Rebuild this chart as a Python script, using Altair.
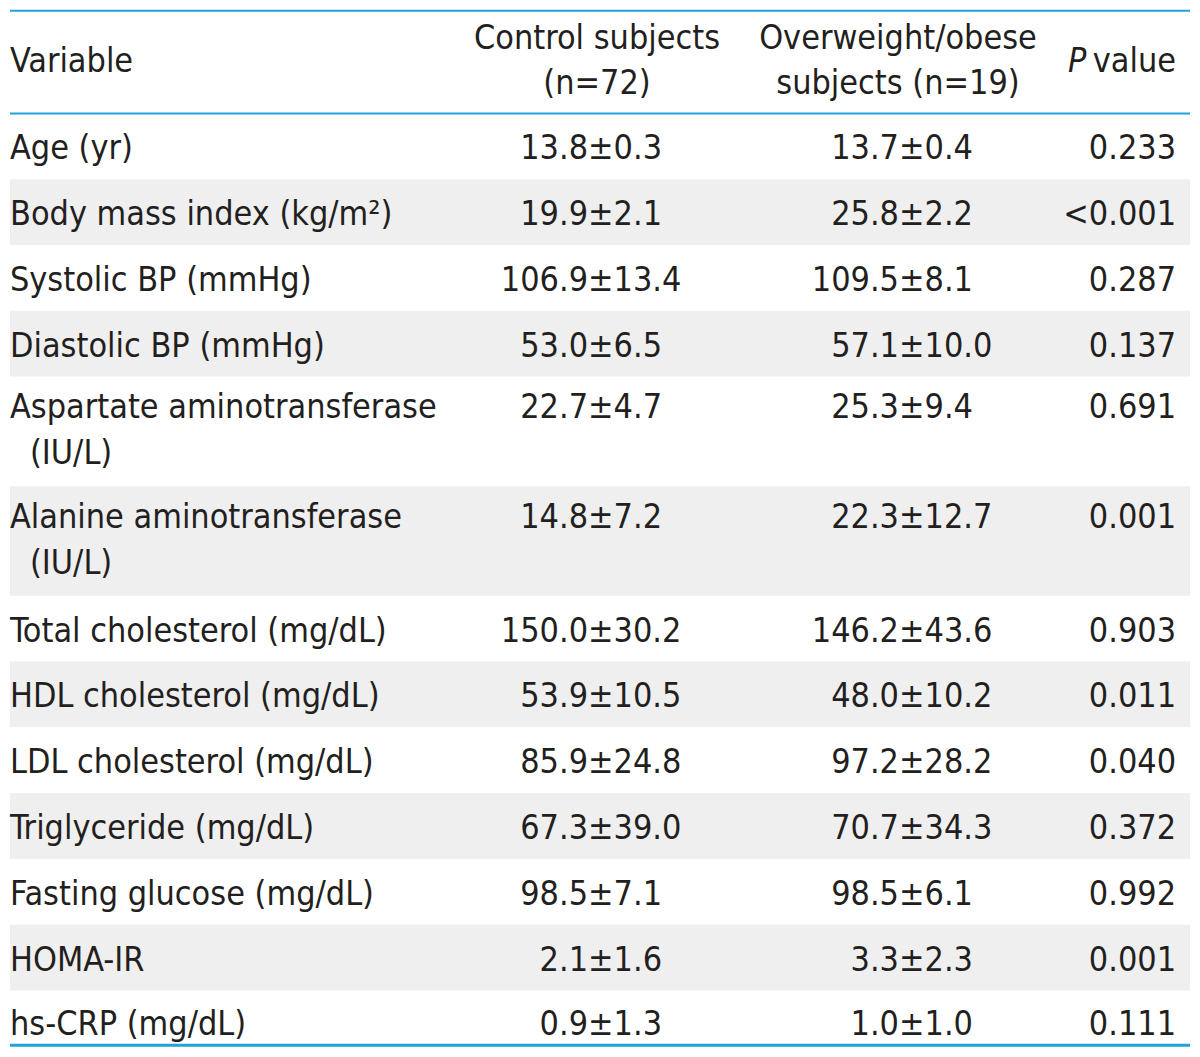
import altair as alt
import pandas as pd

# ---------------- data ----------------
variables = [
    "Age (yr)", "Body mass index (kg/m²)", "Systolic BP (mmHg)", "Diastolic BP (mmHg)",
    "Aspartate aminotransferase", "Alanine aminotransferase", "Total cholesterol (mg/dL)",
    "HDL cholesterol (mg/dL)", "LDL cholesterol (mg/dL)", "Triglyceride (mg/dL)",
    "Fasting glucose (mg/dL)", "HOMA-IR", "hs-CRP (mg/dL)",
]
variables_line2 = ["", "", "", "", "(IU/L)", "(IU/L)", "", "", "", "", "", "", ""]
control = ["13.8±0.3", "19.9±2.1", "106.9±13.4", "53.0±6.5", "22.7±4.7", "14.8±7.2",
           "150.0±30.2", "53.9±10.5", "85.9±24.8", "67.3±39.0", "98.5±7.1", "2.1±1.6", "0.9±1.3"]
overweight = ["13.7±0.4", "25.8±2.2", "109.5±8.1", "57.1±10.0", "25.3±9.4", "22.3±12.7",
              "146.2±43.6", "48.0±10.2", "97.2±28.2", "70.7±34.3", "98.5±6.1", "3.3±2.3", "1.0±1.0"]
p_values = ["0.233", "<0.001", "0.287", "0.137", "0.691", "0.001", "0.903", "0.011",
            "0.040", "0.372", "0.992", "0.001", "0.111"]
header_variable = "Variable"
header_control = ["Control subjects", "(n=72)"]
header_overweight = ["Overweight/obese", "subjects (n=19)"]
header_p = ["P", "value"]

# ---------------- layout ----------------
FONT = "DejaVu Sans Condensed"
FS = 34
TXT = "#231f20"
BLUE = "#1fa3db"
GRAY = "#efefef"
HEADER_BOTTOM = 112
ROW_H, ROW_H2 = 66, 110
X_VAR, X_VAR2 = 8, 28
X_CTRL_PM, X_OW_PM = 588, 900
X_CTRL_HEAD, X_OW_HEAD = 597, 899
X_P = 1178

# chart area on the page: x 8..1192, y 8..1049
X0, X1, Y0, Y1 = 8, 1192, 8, 1049
W, H = X1 - X0, Y1 - Y0
TABLE_END = Y1 - 2

cells = []
rects = []
top = HEADER_BOTTOM
n = len(variables)
for i, var in enumerate(variables):
    two = variables_line2[i] != ""
    h = ROW_H2 if two else ROW_H
    bottom = min(top + h, TABLE_END)
    b1 = top + (42 if two else 46)
    if i == n - 1:
        b1 = min(b1, bottom - 10)
    if i % 2 == 1:
        rects.append({"top": top, "bottom": bottom})
    cells.append({"text": var, "x": X_VAR, "y": b1, "align": "left", "style": "normal"})
    if two:
        cells.append({"text": variables_line2[i], "x": X_VAR2, "y": top + 88, "align": "left", "style": "normal"})
    for val, xpm in ((control[i], X_CTRL_PM), (overweight[i], X_OW_PM)):
        left, right = val.split("±")
        cells.append({"text": left, "x": xpm, "y": b1, "align": "right", "style": "normal"})
        cells.append({"text": "±" + right, "x": xpm, "y": b1, "align": "left", "style": "normal"})
    cells.append({"text": p_values[i], "x": X_P, "y": b1, "align": "right", "style": "normal"})
    top = bottom
table_bottom = top

# header cells
cells.append({"text": header_variable, "x": X_VAR, "y": 70, "align": "left", "style": "normal"})
cells.append({"text": header_control[0], "x": X_CTRL_HEAD, "y": 47, "align": "center", "style": "normal"})
cells.append({"text": header_control[1], "x": X_CTRL_HEAD, "y": 93, "align": "center", "style": "normal"})
cells.append({"text": header_overweight[0], "x": X_OW_HEAD, "y": 47, "align": "center", "style": "normal"})
cells.append({"text": header_overweight[1], "x": X_OW_HEAD, "y": 93, "align": "center", "style": "normal"})
cells.append({"text": header_p[0], "x": 1088, "y": 70, "align": "right", "style": "italic"})
cells.append({"text": header_p[1], "x": X_P, "y": 70, "align": "right", "style": "normal"})

cells_df = pd.DataFrame(cells)
rects_df = pd.DataFrame(rects)
lines_df = pd.DataFrame({"y": [Y0 + 1, HEADER_BOTTOM, table_bottom], "w": [2, 2, 3]})

xs = alt.Scale(domain=[X0, X1], nice=False, zero=False)
ys = alt.Scale(domain=[Y0, Y1], reverse=True, nice=False, zero=False)

bg = alt.Chart(rects_df).mark_rect(color=GRAY).encode(
    x=alt.value(0), x2=alt.value(W),
    y=alt.Y("top:Q", scale=ys, axis=None), y2="bottom:Q",
)

rules = alt.Chart(lines_df).mark_rule(color=BLUE).encode(
    x=alt.value(0), x2=alt.value(W),
    y=alt.Y("y:Q", scale=ys, axis=None),
    strokeWidth=alt.StrokeWidth("w:Q", scale=None, legend=None),
)

text_layers = []
for align in ("left", "right", "center"):
    for style in ("normal", "italic"):
        sub = cells_df[(cells_df["align"] == align) & (cells_df["style"] == style)]
        if len(sub) == 0:
            continue
        text_layers.append(
            alt.Chart(sub).mark_text(
                align=align, baseline="alphabetic", font=FONT, fontSize=FS,
                fontStyle=style, color=TXT,
            ).encode(
                x=alt.X("x:Q", scale=xs, axis=None),
                y=alt.Y("y:Q", scale=ys, axis=None),
                text="text:N",
            )
        )

chart = alt.layer(bg, rules, *text_layers).properties(
    width=W, height=H, padding=0
).configure_view(stroke=None)

chart.save("out.html", embed_options={"renderer": "svg", "actions": False})
